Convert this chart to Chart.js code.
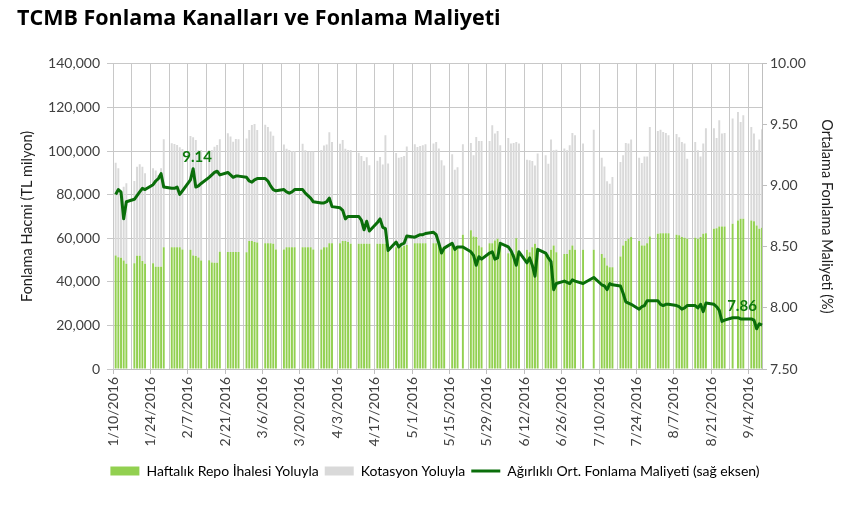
<!DOCTYPE html>
<html>
<head>
<meta charset="utf-8">
<script src="https://cdn.jsdelivr.net/npm/chart.js@4.4.1/dist/chart.umd.min.js"></script>
<style>
  html, body { margin: 0; padding: 0; background: #fff; }
</style>
</head>
<body>
<canvas id="myChart" width="863" height="521"></canvas>
<script>
// işlem günleri (2016)
const tradeDates = [
  '1/11','1/12','1/13','1/14','1/15',  '1/18','1/19','1/20','1/21','1/22',
  '1/25','1/26','1/27','1/28','1/29',  '2/1','2/2','2/3','2/4','2/5',
  '2/8','2/9','2/10','2/11','2/12',    '2/15','2/16','2/17','2/18','2/19',
  '2/22','2/23','2/24','2/25','2/26',  '2/29','3/1','3/2','3/3','3/4',
  '3/7','3/8','3/9','3/10','3/11',     '3/14','3/15','3/16','3/17','3/18',
  '3/21','3/22','3/23','3/24','3/25',  '3/28','3/29','3/30','3/31','4/1',
  '4/4','4/5','4/6','4/7','4/8',       '4/11','4/12','4/13','4/14','4/15',
  '4/18','4/19','4/20','4/21','4/22',  '4/25','4/26','4/27','4/28','4/29',
  '5/2','5/3','5/4','5/5','5/6',       '5/9','5/10','5/11','5/12','5/13',
  '5/16','5/17','5/18','5/20',         '5/23','5/24','5/25','5/26','5/27',
  '5/30','5/31','6/1','6/2','6/3',     '6/6','6/7','6/8','6/9','6/10',
  '6/13','6/14','6/15','6/16','6/17',  '6/20','6/21','6/22','6/23','6/24',
  '6/27','6/28','6/29','6/30','7/1',   '7/4','7/8',
  '7/11','7/12','7/13','7/14','7/15',  '7/18','7/19','7/20','7/21','7/22',
  '7/25','7/26','7/27','7/28','7/29',  '8/1','8/2','8/3','8/4','8/5',
  '8/8','8/9','8/10','8/11','8/12',    '8/15','8/16','8/17','8/18','8/19',
  '8/22','8/23','8/24','8/25','8/26',  '8/29','8/31','9/1','9/2',
  '9/5','9/6','9/7','9/8','9/9'
];

// Haftalık repo ihalesi yoluyla (TL milyon)
const repo = [
  52100, 51300, 51000, 49800, 48300,  48500, 52000, 52000, 49500, 48300,
  48500, 46900, 46900, 46900, 55800,  55900, 55900, 55900, 55900, 54800,
  54700, 52100, 51800, 51100, 49800,  49900, 48900, 48700, 48700, 53800,
  53700, 53700, 53700, 53700, 53700,  53600, 58700, 58700, 58300, 58000,
  57700, 57700, 57700, 57400, 54800,  54800, 55900, 55900, 55900, 55900,
  55900, 55900, 55900, 55900, 54800,  54800, 55900, 55900, 57700, 57700,
  57700, 58700, 58700, 58200, 57400,  57400, 57400, 57400, 57400, 57400,
  57400, 57400, 57400, 57400, 57400,  55900, 55900, 55900, 56500, 56900,
  57700, 57700, 57700, 57700, 57700,  57700, 57700, 57700, 55900, 55100,
  57400, 55900, 55900, 61600,         63600, 60800, 60500, 56700, 55900,
  57700, 57700, 59000, 59700, 57000,  53100, 53100, 52800, 60000, 53600,
  54700, 53600, 55900, 57400, 53600,  53100, 52500, 54700, 56700, 53600,
  52800, 52800, 54700, 56700, 54700,  54700, 54700,
  52800, 51000, 47500, 46700, 46700,  51600, 56700, 58700, 59700, 60500,
  58700, 56700, 56700, 57700, 60800,  62000, 62300, 62300, 62300, 62300,
  61600, 61300, 60500, 60200, 59700,  60200, 59700, 60500, 62000, 62300,
  64300, 64600, 65400, 65400, 65400,  66600, 68100, 68900, 68900,
  68100, 67800, 65800, 64300, 64800
];

// Kotasyon yoluyla (TL milyon)
const kotasyon = [
  42500, 40800, 31100, 33800, 36900,  37700, 40800, 41900, 43300, 41500,
  43600, 44100, 42100, 45200, 49600,  47600, 47300, 46800, 45800, 46100,
  52200, 54200, 53200, 49400, 50700,  50600, 51600, 53300, 54000, 51600,
  54400, 52900, 50600, 51800, 51700,  52100, 50900, 53200, 54100, 51600,
  54300, 53300, 51300, 49600, 45200,  48200, 45100, 44600, 44100, 44100,
  47400, 44500, 43700, 43900, 45000,  45700, 46600, 47100, 50900, 46400,
  45600, 46300, 42300, 42300, 43100,  41800, 40300, 38000, 39700, 36100,
  38100, 39900, 36400, 49800, 36900,  43200, 41000, 41300, 41200, 45200,
  45400, 44100, 44600, 44900, 45400,  45700, 46400, 43400, 39800, 38300,
  41100, 35500, 36700, 41500,         40100, 37200, 45900, 47900, 48700,
  46900, 54100, 49000, 49500, 45600,  52900, 50300, 50900, 44100, 49800,
  41300, 42100, 39500, 36000, 45200,  44900, 41700, 50600, 43600, 47000,
  48300, 47500, 47900, 51600, 52500,  48700, 55100,
  44100, 41900, 38600, 38300, 41400,  43300, 41300, 45000, 43700, 44800,
  38200, 37800, 40800, 39800, 50200,  47200, 47500, 46400, 46000, 44900,
  46200, 45000, 43600, 43200, 36800,  43900, 40600, 37000, 41400, 48100,
  46100, 41400, 48700, 42600, 42900,  48300, 49800, 44400, 47500,
  42900, 40200, 34500, 41000, 45200
];

// Ağırlıklı ortalama fonlama maliyeti (%)
const cost = [
  8.93, 8.97, 8.95, 8.73, 8.87,  8.89, 8.92, 8.95, 8.98, 8.97,
  9.01, 9.04, 9.06, 9.10, 8.99,  8.98, 8.98, 8.99, 8.93, 8.96,
  9.05, 9.14, 8.99, 9.00, 9.02,  9.07, 9.09, 9.11, 9.12, 9.09,
  9.11, 9.09, 9.07, 9.08, 9.08,  9.07, 9.04, 9.03, 9.05, 9.06,
  9.06, 9.04, 9.00, 8.97, 8.96,  8.97, 8.95, 8.94, 8.95, 8.97,
  8.97, 8.94, 8.92, 8.90, 8.87,  8.86, 8.86, 8.87, 8.90, 8.83,
  8.82, 8.80, 8.73, 8.75, 8.75,  8.75, 8.72, 8.64, 8.71, 8.63,
  8.70, 8.73, 8.66, 8.65, 8.47,  8.54, 8.50, 8.52, 8.53, 8.59,
  8.58, 8.59, 8.60, 8.60, 8.61,  8.62, 8.60, 8.53, 8.45, 8.49,
  8.53, 8.48, 8.50, 8.50,        8.46, 8.43, 8.35, 8.42, 8.40,
  8.45, 8.46, 8.40, 8.41, 8.53,  8.50, 8.47, 8.42, 8.35, 8.46,
  8.37, 8.41, 8.35, 8.26, 8.48,  8.45, 8.41, 8.38, 8.15, 8.20,
  8.22, 8.21, 8.20, 8.23, 8.22,  8.20, 8.25,
  8.19, 8.18, 8.15, 8.20, 8.19,  8.18, 8.12, 8.05, 8.04, 8.03,
  7.99, 8.01, 8.02, 8.06, 8.06,  8.06, 8.03, 8.02, 8.03, 8.03,
  8.02, 8.01, 7.99, 8.00, 8.02,  8.02, 8.00, 8.03, 7.97, 8.04,
  8.03, 8.01, 7.98, 7.89, 7.90,  7.92, 7.92, 7.91, 7.91,
  7.91, 7.90, 7.83, 7.87, 7.86
];

const xTickLabels = ['1/10/2016','1/24/2016','2/7/2016','2/21/2016','3/6/2016','3/20/2016',
  '4/3/2016','4/17/2016','5/1/2016','5/15/2016','5/29/2016','6/12/2016','6/26/2016',
  '7/10/2016','7/24/2016','8/7/2016','8/21/2016','9/4/2016'];
const leftTicks = [0, 20000, 40000, 60000, 80000, 100000, 120000, 140000];
const rightTicks = [7.5, 8, 8.5, 9, 9.5, 10];
const labelDates = ['2/9', '9/9'];

// takvim ekseni: 1/10/2016 - 9/9/2016, hafta sonu ve tatiller boş
const labels = [];
const keyIndex = {};
for (let d = new Date(2016, 0, 10); d <= new Date(2016, 8, 9); d.setDate(d.getDate() + 1)) {
  const key = (d.getMonth() + 1) + '/' + d.getDate();
  keyIndex[key] = labels.length;
  labels.push(key + '/2016');
}
const repoDaily = labels.map(() => null);
const kotDaily = labels.map(() => null);
const costDaily = labels.map(() => null);
tradeDates.forEach((k, i) => {
  repoDaily[keyIndex[k]] = repo[i];
  kotDaily[keyIndex[k]] = kotasyon[i];
  costDaily[keyIndex[k]] = cost[i];
});

Chart.defaults.font.family = 'Lato, "Open Sans", sans-serif';
Chart.defaults.color = '#404040';

const labelShift = [[4, -12], [-20, -19]];
const valueLabels = {
  id: 'valueLabels',
  afterDatasetsDraw: function(chart) {
    const meta = chart.getDatasetMeta(2);
    const c = chart.ctx;
    c.save();
    c.font = 'bold 15px Lato';
    c.fillStyle = '#0E7A0D';
    c.textAlign = 'center';
    c.textBaseline = 'middle';
    labelDates.forEach((k, n) => {
      const i = keyIndex[k];
      const pt = meta.data[i];
      c.fillText(costDaily[i].toFixed(2), pt.x + labelShift[n][0], pt.y + labelShift[n][1]);
    });
    c.restore();
  }
};

const ctx = document.getElementById('myChart').getContext('2d');

const myChart = new Chart(ctx, {
  data: {
    labels: labels,
    datasets: [
      { type: 'bar', label: 'Haftalık Repo İhalesi Yoluyla', data: repoDaily, backgroundColor: '#92D050',
        yAxisID: 'y', stack: 's', order: 1, barPercentage: 1, categoryPercentage: 0.72 },
      { type: 'bar', label: 'Kotasyon Yoluyla', data: kotDaily, backgroundColor: '#D9D9D9',
        yAxisID: 'y', stack: 's', order: 1, barPercentage: 1, categoryPercentage: 0.72 },
      { type: 'line', label: 'Ağırlıklı Ort. Fonlama Maliyeti (sağ eksen)', data: costDaily,
        yAxisID: 'y2', borderColor: '#0A6E0A', backgroundColor: '#0A6E0A', borderWidth: 3,
        pointRadius: 0, spanGaps: true, tension: 0, borderJoinStyle: 'round', order: 0 }
    ]
  },
  options: {
    responsive: false,
    animation: false,
    layout: { padding: { left: 17, right: 10, top: 0, bottom: 33 } },
    plugins: {
      tooltip: { enabled: false },
      title: {
        display: true,
        text: 'TCMB Fonlama Kanalları ve Fonlama Maliyeti',
        align: 'start',
        color: '#000',
        font: { family: '"Open Sans", Lato, sans-serif', size: 21.5, weight: 'bold' },
        padding: { top: 6, bottom: 32 }
      },
      legend: {
        position: 'bottom',
        labels: {
          font: { size: 14 },
          color: '#1F1F1F',
          usePointStyle: true,
          pointStyleWidth: 29,
          boxHeight: 9,
          padding: 6,
          generateLabels: function(chart) {
            return chart.data.datasets.map((ds, i) => ({
              text: ds.label,
              fillStyle: ds.backgroundColor,
              strokeStyle: ds.type === 'line' ? ds.borderColor : ds.backgroundColor,
              lineWidth: ds.type === 'line' ? 3 : 0,
              pointStyle: ds.type === 'line' ? 'line' : 'rect',
              hidden: false,
              datasetIndex: i
            }));
          }
        }
      }
    },
    scales: {
      x: {
        stacked: true,
        offset: false,
        afterFit: function(s) { s.height = 89; },
        grid: {
          offset: false,
          color: c => c.index % 7 === 0 ? '#C8C8C8' : 'transparent',
          tickColor: c => c.index % 14 === 0 ? '#BFBFBF' : 'transparent',
          tickLength: 5
        },
        border: { color: '#BFBFBF' },
        ticks: {
          autoSkip: false,
          minRotation: 90,
          maxRotation: 90,
          padding: 3,
          font: { size: 14 },
          callback: function(value) {
            const l = this.getLabelForValue(value);
            return xTickLabels.includes(l) ? l : '';
          }
        }
      },
      y: {
        stacked: true,
        position: 'left',
        min: 0,
        max: 140000,
        afterFit: function(s) { s.width = 96; },
        afterBuildTicks: function(s) { s.ticks = leftTicks.map(v => ({ value: v })); },
        grid: { color: '#C8C8C8', tickLength: 6 },
        border: { color: '#C8C8C8' },
        ticks: {
          padding: 7,
          font: { size: 14 },
          callback: v => v.toLocaleString('en-US')
        },
        title: {
          display: true,
          text: 'Fonlama Hacmi (TL milyon)',
          font: { size: 14.5 },
          color: '#1F1F1F',
          padding: { top: 2, bottom: 0 }
        }
      },
      y2: {
        position: 'right',
        min: 7.5,
        max: 10,
        afterFit: function(s) { s.width = 91; },
        afterBuildTicks: function(s) { s.ticks = rightTicks.map(v => ({ value: v })); },
        grid: { drawOnChartArea: false, color: '#BFBFBF', tickLength: 5 },
        border: { color: '#BFBFBF' },
        ticks: {
          padding: 3,
          font: { size: 14 },
          callback: v => v.toFixed(2)
        },
        title: {
          display: true,
          text: 'Ortalama Fonlama Maliyeti (%)',
          font: { size: 14.5 },
          color: '#1F1F1F',
          padding: { top: 18, bottom: 0 }
        }
      }
    }
  },
  plugins: [valueLabels]
});
</script>
</body>
</html>
